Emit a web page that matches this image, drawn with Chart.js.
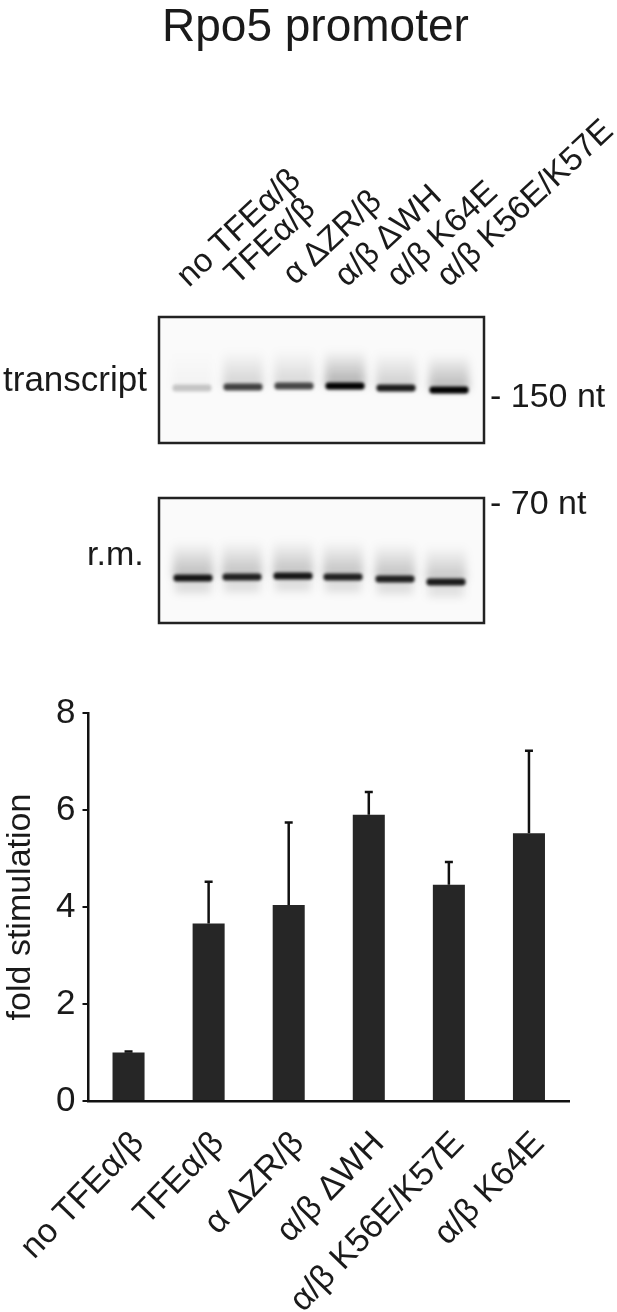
<!DOCTYPE html>
<html><head><meta charset="utf-8">
<script src="https://cdn.jsdelivr.net/npm/chart.js@4"></script>
<style>
html,body{margin:0;padding:0;background:#fff;width:617px;height:1312px;overflow:hidden}
#wrap{position:relative;width:617px;height:1312px;font-family:"Liberation Sans",Arial,sans-serif;color:#1a1a1a}
canvas{position:absolute;left:0;top:0}
.t{position:absolute;white-space:nowrap;line-height:1;transform-origin:0 50%}
</style></head><body>
<div id="wrap"><canvas id="c" width="617" height="1312"></canvas></div>
<script>
const categories=["no TFEα/β","TFEα/β","α ΔZR/β","α/β ΔWH","α/β K56E/K57E","α/β K64E"];
const foldValues=[1.0,3.66,4.04,5.9,4.46,5.52];
const errorTops=[1.02,4.52,5.74,6.37,4.93,7.22];
const yTicks=[0,2,4,6,8];
const yTitle="fold stimulation";
const mainTitle="Rpo5 promoter";
const gelLaneLabels=["no TFEα/β","TFEα/β","α ΔZR/β","α/β ΔWH","α/β K64E","α/β K56E/K57E"];
const transcriptBands=[0.2,0.72,0.7,1,0.88,1];
const transcriptSmear=[0.03,0.17,0.15,0.32,0.19,0.29];
const rmBands=[0.9,0.85,0.9,0.85,0.85,0.88];
const rmSmear=[0.27,0.25,0.25,0.25,0.25,0.23];

const wrap=document.getElementById('wrap');
function addText(s,x,y,size,rot){
  const d=document.createElement('div');d.className='t';d.textContent=s;
  d.style.left=x+'px';d.style.top=(y-size/2)+'px';d.style.fontSize=size+'px';
  if(rot)d.style.transform='rotate('+rot+'deg)';
  wrap.appendChild(d);return d;
}
addText(mainTitle,162,25,46);
const laneStartX=[181,229,287,339,391,441], laneStartY=[279,277,277,279,279,279];
gelLaneLabels.forEach((s,i)=>addText(s,laneStartX[i],laneStartY[i],33,-43));
addText("transcript",3,378,35);
addText("- 150 nt",490,395,34);
addText("- 70 nt",490,502,34);
addText("r.m.",87,553,34);

const gelPlugin={id:'gels',beforeDraw(chart){
  const ctx=chart.ctx;
  function gel(top,bottom,centers,ys,bands,smear,under){
    const L=160,R=483;
    ctx.save();
    ctx.fillStyle='#fafafa';ctx.fillRect(L,top,R-L,bottom-top);
    ctx.beginPath();ctx.rect(L,top,R-L,bottom-top);ctx.clip();
    ctx.filter='blur(4px)';
    centers.forEach((cx,i)=>{
      const g=ctx.createLinearGradient(0,ys[i]-36,0,ys[i]);
      g.addColorStop(0,'rgba(0,0,0,0)');g.addColorStop(1,'rgba(0,0,0,'+smear[i]+')');
      ctx.fillStyle=g;ctx.fillRect(cx-20,ys[i]-36,40,36);
      if(under){ctx.fillStyle='rgba(0,0,0,'+smear[i]*0.45+')';ctx.fillRect(cx-18,ys[i]+2,36,13);}
    });
    ctx.filter='blur(1.6px)';
    centers.forEach((cx,i)=>{
      ctx.fillStyle='rgba(0,0,0,'+bands[i]+')';
      ctx.beginPath();ctx.roundRect(cx-19.5,ys[i]-3.5,39,7,3);ctx.fill();
    });
    ctx.restore();
    ctx.strokeStyle='#222';ctx.lineWidth=2.5;ctx.strokeRect(L-1,top-1,R-L+2,bottom-top+2);
  }
  gel(318,442,[192,243,294,345,396,449],[388,387,386,386,388,390],transcriptBands,transcriptSmear,false);
  gel(499,622,[193,242,293,343,395,446],[578,577,576,577,579,582],rmBands,rmSmear,true);
}};
const errPlugin={id:'err',afterDatasetsDraw(chart){
  const ctx=chart.ctx,x=chart.scales.x,y=chart.scales.y;
  ctx.save();ctx.strokeStyle='#111';ctx.lineWidth=2.5;
  errorTops.forEach((v,i)=>{
    const px=x.getPixelForValue(i),t=y.getPixelForValue(v),b=y.getPixelForValue(foldValues[i]);
    ctx.beginPath();ctx.moveTo(px,b);ctx.lineTo(px,t);ctx.moveTo(px-4,t);ctx.lineTo(px+4,t);ctx.stroke();
  });
  ctx.restore();
}};
Chart.defaults.font.family='"Liberation Sans",Arial,sans-serif';
new Chart(document.getElementById('c'),{
  type:'bar',
  data:{labels:categories,datasets:[{data:foldValues,backgroundColor:'#262626',barPercentage:0.4,categoryPercentage:1}]},
  plugins:[gelPlugin,errPlugin],
  options:{responsive:false,animation:false,
    layout:{autoPadding:false,padding:{left:0,right:48,top:713,bottom:0}},
    plugins:{legend:{display:false},tooltip:{enabled:false}},
    scales:{
      x:{afterFit(s){s.height=211;s.paddingLeft=0;s.paddingRight=0;},
        grid:{display:false},border:{color:'#111',width:2.5},
        ticks:{autoSkip:false,minRotation:46,maxRotation:46,color:'#1a1a1a',padding:15,labelOffset:10,font:{size:34}}},
      y:{min:0,max:8,afterFit(s){s.width=88.5;},
        afterBuildTicks(s){s.ticks=yTicks.map(v=>({value:v}));},
        grid:{drawOnChartArea:false,color:'#111',lineWidth:2,tickLength:6},border:{color:'#111',width:2.5},
        ticks:{color:'#1a1a1a',padding:7,font:{size:35}},
        title:{display:true,text:yTitle,color:'#1a1a1a',font:{size:34},padding:0}}
    }}
});
</script></body></html>
